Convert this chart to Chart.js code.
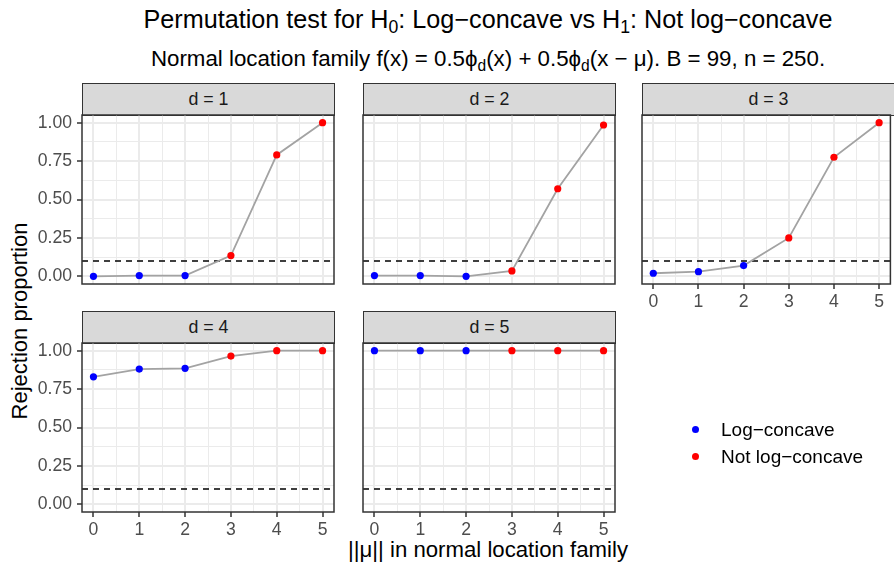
<!DOCTYPE html>
<html>
<head>
<meta charset="utf-8">
<script src="https://cdn.jsdelivr.net/npm/chart.js@4.4.1/dist/chart.umd.min.js"></script>
<style>
  body {
    margin: 0;
    width: 894px;
    height: 564px;
    position: relative;
    overflow: hidden;
    background: #ffffff;
    font-family: "Liberation Sans", Arial, Helvetica, sans-serif;
  }
  canvas { position: absolute; left: 0; top: 0; }
  .titulo, .subtitulo, .ejeX, .ejeY, .strip, .leyenda { position: absolute; white-space: nowrap; }
  .titulo { left: 82px; width: 812px; top: 5px; text-align: center; font-size: 25.2px; color: #000; }
  .subtitulo { left: 82px; width: 812px; top: 46px; text-align: center; font-size: 22.3px; color: #000; }
  .titulo sub, .subtitulo sub { font-size: 0.7em; vertical-align: -0.3em; line-height: 0; }
  .ejeX { left: 82px; width: 812px; top: 537px; text-align: center; font-size: 22.2px; color: #000; }
  .ejeY { left: 20px; top: 321px; font-size: 22px; color: #000; transform: translate(-50%, -50%) rotate(-90deg); }
  .strip {
    box-sizing: border-box;
    background: #d9d9d9;
    border: 1.5px solid #333333;
    text-align: center;
    font-size: 17.8px;
    color: #1a1a1a;
  }
  .leyenda { left: 692px; font-size: 19px; color: #000; }
  .leyenda span.punto {
    display: inline-block; width: 7px; height: 7px; border-radius: 50%;
    margin-right: 22px; vertical-align: 3px;
  }
</style>
</head>
<body>
<div class="titulo">Permutation test for H<sub>0</sub>: Log−concave vs H<sub>1</sub>: Not log−concave</div>
<div class="subtitulo">Normal location family f(x) = 0.5ϕ<sub>d</sub>(x) + 0.5ϕ<sub>d</sub>(x − μ). B = 99, n = 250.</div>
<div class="ejeY">Rejection proportion</div>
<div class="ejeX">||μ|| in normal location family</div>

<script>
// norma de mu en cada simulacion
const mu = [0, 1, 2, 3, 4, 5];
const dimensiones = [1, 2, 3, 4, 5];

// proporcion de rechazo para cada d
const rechazoD1 = [0, 0.005, 0.005, 0.135, 0.79, 1.0];
const rechazoD2 = [0.005, 0.005, 0, 0.035, 0.57, 0.985];
const rechazoD3 = [0.02, 0.03, 0.07, 0.25, 0.775, 1.0];
const rechazoD4 = [0.83, 0.88, 0.885, 0.965, 1.0, 1.0];
const rechazoD5 = [1.0, 1.0, 1.0, 1.0, 1.0, 1.0];
const rechazos = [rechazoD1, rechazoD2, rechazoD3, rechazoD4, rechazoD5];

// clase verdadera de la mezcla segun mu
const clase = ["Log−concave", "Log−concave", "Log−concave", "Not log−concave", "Not log−concave", "Not log−concave"];
const clases = ["Log−concave", "Not log−concave"];
const alfa = 0.1;

const xTicks = [0, 1, 2, 3, 4, 5];
const xMenores = [0.5, 1.5, 2.5, 3.5, 4.5];
const yTicks = [0, 0.25, 0.5, 0.75, 1];
const yMenores = [0.125, 0.375, 0.625, 0.875];
const xMin = -0.25, xMax = 5.25;
const yMin = -0.05, yMax = 1.05;

const colores = { "Log−concave": "#0000ff", "Not log−concave": "#ff0000" };

// geometria de la rejilla de paneles
const W = 894, H = 564;
const colIzq = [82, 363, 642];
const anchoPanel = 252;
const filaStrip = [83, 311];
const altoStrip = 32;
const filaAbajo = [284, 512];
const anchoEjeY = 60;
const altoEjeX = 34;
const fuente = '"Liberation Sans", Arial, Helvetica, sans-serif';

const bordePanel = {
  id: "bordePanel",
  afterDraw(chart) {
    const a = chart.chartArea;
    const c = chart.ctx;
    c.save();
    c.strokeStyle = "#333333";
    c.lineWidth = 1.5;
    c.strokeRect(a.left, a.top, a.right - a.left, a.bottom - a.top);
    c.restore();
  }
};

function esMayor(lista, v) {
  return lista.some(t => Math.abs(t - v) < 1e-9);
}

function crearPanel(k) {
  const col = k % 3;
  const fila = Math.floor(k / 3);
  const izq = colIzq[col];
  const der = Math.min(izq + anchoPanel, W);
  const arriba = filaStrip[fila] + altoStrip;
  const abajo = filaAbajo[fila];
  const conY = col === 0;
  const conX = fila === 1 || k === 2;

  const strip = document.createElement("div");
  strip.className = "strip";
  strip.style.left = izq + "px";
  strip.style.top = filaStrip[fila] + "px";
  strip.style.width = (der - izq + 1) + "px";
  strip.style.height = (altoStrip + 1) + "px";
  strip.style.lineHeight = (altoStrip - 2) + "px";
  strip.textContent = "d = " + dimensiones[k];
  document.body.appendChild(strip);

  const canvas = document.createElement("canvas");
  canvas.width = W;
  canvas.height = H;
  document.body.appendChild(canvas);

  const valores = rechazos[k];

  new Chart(canvas.getContext("2d"), {
    type: "line",
    data: {
      datasets: [
        {
          data: mu.map((m, i) => ({ x: m, y: valores[i] })),
          borderColor: "#a3a3a3",
          borderWidth: 1.8,
          tension: 0,
          pointRadius: 3.6,
          pointHoverRadius: 3.6,
          pointBorderWidth: 0,
          pointBackgroundColor: clase.map(c => colores[c]),
          pointBorderColor: clase.map(c => colores[c])
        },
        {
          data: [{ x: xMin, y: alfa }, { x: xMax, y: alfa }],
          borderColor: "#000000",
          borderWidth: 1.5,
          borderDash: [6, 5],
          pointRadius: 0
        }
      ]
    },
    options: {
      responsive: false,
      animation: false,
      events: [],
      layout: {
        padding: {
          left: izq - anchoEjeY,
          top: arriba,
          right: W - der,
          bottom: H - abajo - altoEjeX
        }
      },
      plugins: {
        legend: { display: false },
        tooltip: { enabled: false }
      },
      scales: {
        x: {
          type: "linear",
          min: xMin,
          max: xMax,
          afterBuildTicks: s => {
            s.ticks = xTicks.concat(xMenores).sort((a, b) => a - b).map(v => ({ value: v }));
          },
          afterFit: s => {
            s.height = altoEjeX;
            s.paddingLeft = 0;
            s.paddingRight = 0;
          },
          border: { display: false },
          grid: {
            color: "#ebebeb",
            lineWidth: c => esMayor(xTicks, c.tick.value) ? 2 : 1,
            drawTicks: conX,
            tickLength: 5,
            tickWidth: 1.5,
            tickColor: c => esMayor(xTicks, c.tick.value) ? "#333333" : "rgba(0,0,0,0)"
          },
          ticks: {
            display: conX,
            autoSkip: false,
            maxRotation: 0,
            padding: 3,
            color: "#4d4d4d",
            font: { family: fuente, size: 17.6 },
            callback: v => esMayor(xTicks, v) ? String(v) : ""
          }
        },
        y: {
          type: "linear",
          min: yMin,
          max: yMax,
          afterBuildTicks: s => {
            s.ticks = yTicks.concat(yMenores).sort((a, b) => a - b).map(v => ({ value: v }));
          },
          afterFit: s => {
            s.width = anchoEjeY;
            s.paddingTop = 0;
            s.paddingBottom = 0;
          },
          border: { display: false },
          grid: {
            color: "#ebebeb",
            lineWidth: c => esMayor(yTicks, c.tick.value) ? 2 : 1,
            drawTicks: conY,
            tickLength: 5,
            tickWidth: 1.5,
            tickColor: c => esMayor(yTicks, c.tick.value) ? "#333333" : "rgba(0,0,0,0)"
          },
          ticks: {
            display: conY,
            autoSkip: false,
            padding: 5,
            color: "#4d4d4d",
            font: { family: fuente, size: 17.6 },
            callback: v => esMayor(yTicks, v) ? v.toFixed(2) : ""
          }
        }
      }
    },
    plugins: [bordePanel]
  });
}

dimensiones.forEach((d, k) => crearPanel(k));

// leyenda de la clase verdadera
clases.forEach((c, i) => {
  const item = document.createElement("div");
  item.className = "leyenda";
  item.style.top = (419 + i * 27) + "px";
  item.innerHTML = '<span class="punto" style="background:' + colores[c] + '"></span>' + c;
  document.body.appendChild(item);
});
</script>
</body>
</html>
